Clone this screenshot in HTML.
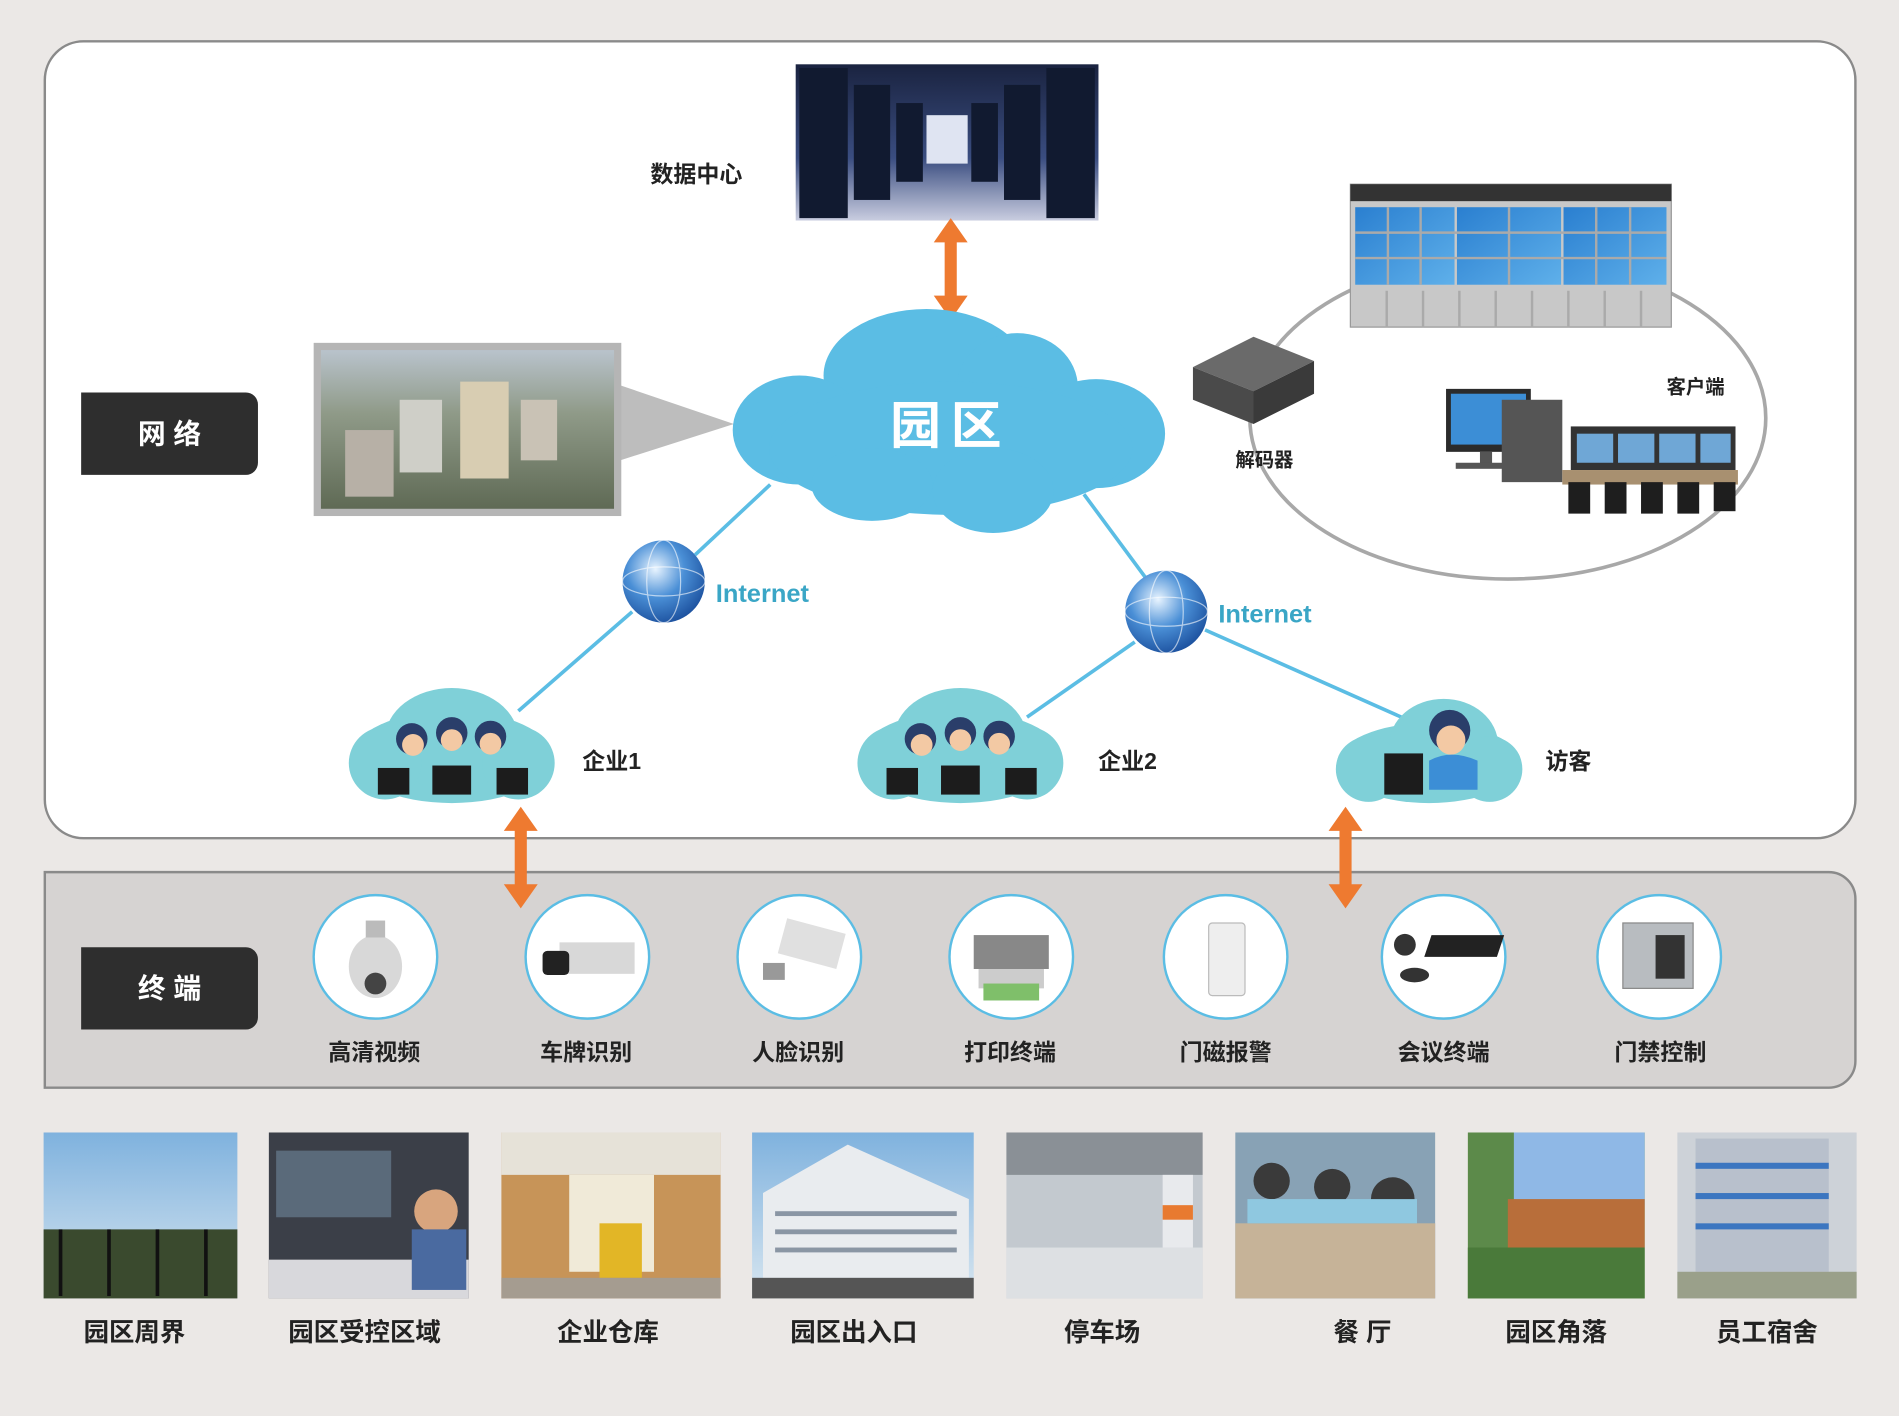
<!DOCTYPE html>
<html><head><meta charset="utf-8">
<style>
html,body{margin:0;padding:0;background:#ebe8e6;}
svg{display:block;}
text{font-family:"Liberation Sans","Noto Sans CJK SC",sans-serif;font-weight:bold;}
</style></head>
<body>
<svg width="1899" height="1416" viewBox="0 0 1568 1169" xmlns="http://www.w3.org/2000/svg">
<defs>
 <linearGradient id="dc" x1="0" y1="0" x2="0" y2="1"><stop offset="0" stop-color="#1a2340"/><stop offset="0.6" stop-color="#3a4d80"/><stop offset="1" stop-color="#c9cde0"/></linearGradient>
 <linearGradient id="city" x1="0" y1="0" x2="0" y2="1"><stop offset="0" stop-color="#b9c3cc"/><stop offset="0.4" stop-color="#8f9a88"/><stop offset="1" stop-color="#5f6a55"/></linearGradient>
 <radialGradient id="globe" cx="0.4" cy="0.35" r="0.7"><stop offset="0" stop-color="#e8f4ff"/><stop offset="0.5" stop-color="#4a8fd6"/><stop offset="1" stop-color="#1a4e9c"/></radialGradient>
 <linearGradient id="scr" x1="0" y1="0" x2="1" y2="1"><stop offset="0" stop-color="#2a7fd0"/><stop offset="1" stop-color="#5fb0ea"/></linearGradient>
 <linearGradient id="sky" x1="0" y1="0" x2="0" y2="1"><stop offset="0" stop-color="#7fb2de"/><stop offset="1" stop-color="#d8e6f0"/></linearGradient>
 <g id="arrow"><polygon points="0,-42 -14,-22 -5,-22 -5,22 -14,22 0,42 14,22 5,22 5,-22 14,-22" fill="#ee7a30"/></g>
</defs>
<rect width="1568" height="1169" fill="#ebe8e6"/>
<rect x="37" y="34" width="1495" height="658" rx="32" fill="#fff" stroke="#8a8a8a" stroke-width="2"/>
<path d="M37 720 H1510 a22 22 0 0 1 22 22 V876 a22 22 0 0 1 -22 22 H37 Z" fill="#d6d3d2" stroke="#8a8a8a" stroke-width="2"/>
<path d="M67 324 H203 a10 10 0 0 1 10 10 V382 a10 10 0 0 1 -10 10 H67 Z" fill="#2e2e2e"/>
<text x="140" y="366" font-size="23" fill="#fff" text-anchor="middle">网 络</text>
<path d="M67 782 H203 a10 10 0 0 1 10 10 V840 a10 10 0 0 1 -10 10 H67 Z" fill="#2e2e2e"/>
<text x="140" y="824" font-size="23" fill="#fff" text-anchor="middle">终 端</text>

<rect x="657" y="53" width="250" height="129" fill="url(#dc)"/>
<g fill="#111a30">
 <rect x="660" y="56" width="40" height="124"/><rect x="705" y="70" width="30" height="95"/><rect x="740" y="85" width="22" height="65"/>
 <rect x="864" y="56" width="40" height="124"/><rect x="829" y="70" width="30" height="95"/><rect x="802" y="85" width="22" height="65"/>
</g>
<rect x="765" y="95" width="34" height="40" fill="#dfe4f2"/>
<text x="575" y="150" font-size="19" fill="#222" text-anchor="middle">数据中心</text>
<use href="#arrow" x="785" y="222"/>

<polygon points="512,318 606,350 512,380" fill="#bdbdbd"/>
<rect x="259" y="283" width="254" height="143" fill="#b5b5b5"/>
<rect x="265" y="289" width="242" height="131" fill="url(#city)"/>
<rect x="380" y="315" width="40" height="80" fill="#d8cdb2"/><rect x="330" y="330" width="35" height="60" fill="#cfcfc8"/><rect x="285" y="355" width="40" height="55" fill="#b7b0a6"/><rect x="430" y="330" width="30" height="50" fill="#c9c2b5"/>

<g stroke="#5bbde4" stroke-width="3" fill="none">
 <line x1="636" y1="400" x2="574" y2="458"/>
 <line x1="522" y1="505" x2="428" y2="587"/>
 <line x1="895" y1="408" x2="946" y2="477"/>
 <line x1="937" y1="530" x2="848" y2="592"/>
 <line x1="995" y1="520" x2="1166" y2="596"/>
</g>
<g fill="#5bbde4">
 <ellipse cx="765" cy="310" rx="85" ry="55"/>
 <ellipse cx="840" cy="320" rx="50" ry="45"/>
 <ellipse cx="660" cy="355" rx="55" ry="45"/>
 <ellipse cx="905" cy="358" rx="57" ry="45"/>
 <ellipse cx="785" cy="370" rx="150" ry="55"/>
 <ellipse cx="720" cy="400" rx="50" ry="30"/>
 <ellipse cx="820" cy="405" rx="50" ry="35"/>
</g>
<text x="785" y="366" font-size="42" fill="#fff" text-anchor="middle" letter-spacing="8">园区</text>

<circle cx="548" cy="480" r="34" fill="url(#globe)"/>
<circle cx="963" cy="505" r="34" fill="url(#globe)"/>
<g stroke="#fff" stroke-width="1" fill="none" opacity="0.6"><ellipse cx="548" cy="480" rx="34" ry="12"/><ellipse cx="548" cy="480" rx="14" ry="34"/><ellipse cx="963" cy="505" rx="34" ry="12"/><ellipse cx="963" cy="505" rx="14" ry="34"/></g>
<text x="591" y="497" font-size="21" fill="#3aa6c6">Internet</text>
<text x="1006" y="514" font-size="21" fill="#3aa6c6">Internet</text>

<ellipse cx="1245" cy="345" rx="213" ry="133" fill="none" stroke="#a8a8a8" stroke-width="3"/>
<rect x="1115" y="152" width="265" height="118" fill="#c8c8c8" stroke="#999"/>
<rect x="1115" y="152" width="265" height="14" fill="#333"/>
<g fill="url(#scr)">
 <rect x="1119" y="171" width="82" height="64"/><rect x="1203" y="171" width="86" height="64"/><rect x="1291" y="171" width="85" height="64"/>
</g>
<g stroke="#aaa" stroke-width="2">
 <line x1="1146" y1="171" x2="1146" y2="235"/><line x1="1173" y1="171" x2="1173" y2="235"/><line x1="1246" y1="171" x2="1246" y2="235"/><line x1="1318" y1="171" x2="1318" y2="235"/><line x1="1346" y1="171" x2="1346" y2="235"/>
 <line x1="1119" y1="192" x2="1376" y2="192"/><line x1="1119" y1="213" x2="1376" y2="213"/>
 <line x1="1145" y1="240" x2="1145" y2="270"/><line x1="1175" y1="240" x2="1175" y2="270"/><line x1="1205" y1="240" x2="1205" y2="270"/><line x1="1235" y1="240" x2="1235" y2="270"/><line x1="1265" y1="240" x2="1265" y2="270"/><line x1="1295" y1="240" x2="1295" y2="270"/><line x1="1325" y1="240" x2="1325" y2="270"/><line x1="1355" y1="240" x2="1355" y2="270"/>
</g>
<polygon points="985,303 1035,278 1085,298 1035,323" fill="#6a6a6a"/>
<polygon points="985,303 1035,323 1035,350 985,330" fill="#4a4a4a"/>
<polygon points="1035,323 1085,298 1085,325 1035,350" fill="#3a3a3a"/>
<text x="1044" y="385" font-size="16" fill="#222" text-anchor="middle">解码器</text>
<rect x="1194" y="321" width="70" height="52" fill="#2b2b2b"/><rect x="1198" y="325" width="62" height="42" fill="#3c8ed6"/>
<rect x="1222" y="373" width="10" height="10" fill="#555"/><rect x="1202" y="382" width="48" height="5" fill="#555"/>
<rect x="1240" y="330" width="50" height="68" fill="#555"/>
<rect x="1297" y="352" width="136" height="36" fill="#333"/>
<g fill="#6fa7d6"><rect x="1302" y="358" width="30" height="24"/><rect x="1336" y="358" width="30" height="24"/><rect x="1370" y="358" width="30" height="24"/><rect x="1404" y="358" width="25" height="24"/></g>
<rect x="1290" y="388" width="145" height="12" fill="#a89070"/>
<g fill="#1e1e1e"><rect x="1295" y="398" width="18" height="26"/><rect x="1325" y="398" width="18" height="26"/><rect x="1355" y="398" width="18" height="26"/><rect x="1385" y="398" width="18" height="26"/><rect x="1415" y="398" width="18" height="24"/></g>
<text x="1400" y="325" font-size="16" fill="#222" text-anchor="middle">客户端</text>

<g fill="#7fd0d8">
 <ellipse cx="373" cy="625" rx="83" ry="38"/><ellipse cx="373" cy="610" rx="55" ry="42"/><ellipse cx="318" cy="630" rx="30" ry="30"/><ellipse cx="428" cy="630" rx="30" ry="30"/>
 <ellipse cx="793" cy="625" rx="83" ry="38"/><ellipse cx="793" cy="610" rx="55" ry="42"/><ellipse cx="738" cy="630" rx="30" ry="30"/><ellipse cx="848" cy="630" rx="30" ry="30"/>
 <ellipse cx="1180" cy="630" rx="76" ry="33"/><ellipse cx="1192" cy="615" rx="45" ry="38"/><ellipse cx="1130" cy="635" rx="27" ry="27"/><ellipse cx="1230" cy="635" rx="27" ry="27"/>
</g>
<g>
 <g fill="#2a3e6a"><circle cx="340" cy="610" r="13"/><circle cx="373" cy="605" r="13"/><circle cx="405" cy="608" r="13"/><circle cx="760" cy="610" r="13"/><circle cx="793" cy="605" r="13"/><circle cx="825" cy="608" r="13"/><circle cx="1197" cy="603" r="17"/></g>
 <g fill="#f3c9a4"><circle cx="341" cy="615" r="9"/><circle cx="373" cy="611" r="9"/><circle cx="405" cy="614" r="9"/><circle cx="761" cy="615" r="9"/><circle cx="793" cy="611" r="9"/><circle cx="825" cy="614" r="9"/><circle cx="1198" cy="611" r="12"/></g>
 <g fill="#1c1c1c"><rect x="312" y="634" width="26" height="22"/><rect x="357" y="632" width="32" height="24"/><rect x="410" y="634" width="26" height="22"/><rect x="732" y="634" width="26" height="22"/><rect x="777" y="632" width="32" height="24"/><rect x="830" y="634" width="26" height="22"/><rect x="1143" y="622" width="32" height="34"/></g>
 <path d="M1180 628 q18 -10 40 0 v24 h-40 z" fill="#3c8ed6"/>
</g>
<text x="505" y="635" font-size="19" fill="#222" text-anchor="middle">企业1</text>
<text x="931" y="635" font-size="19" fill="#222" text-anchor="middle">企业2</text>
<text x="1295" y="635" font-size="19" fill="#222" text-anchor="middle">访客</text>

<use href="#arrow" x="430" y="708"/>
<use href="#arrow" x="1111" y="708"/>

<g fill="#fff" stroke="#5bbde4" stroke-width="2">
 <circle cx="310" cy="790" r="51"/><circle cx="485" cy="790" r="51"/><circle cx="660" cy="790" r="51"/><circle cx="835" cy="790" r="51"/><circle cx="1012" cy="790" r="51"/><circle cx="1192" cy="790" r="51"/><circle cx="1370" cy="790" r="51"/>
</g>
<ellipse cx="310" cy="798" rx="22" ry="26" fill="#d8d8d8"/><rect x="302" y="760" width="16" height="14" fill="#bbb"/><circle cx="310" cy="812" r="9" fill="#444"/>
<rect x="462" y="778" width="62" height="26" fill="#d8d8d8"/><rect x="448" y="785" width="22" height="20" rx="4" fill="#222"/>
<rect x="645" y="764" width="50" height="30" fill="#e0e0e0" transform="rotate(15 670 780)"/><rect x="630" y="795" width="18" height="14" fill="#999"/>
<rect x="804" y="772" width="62" height="28" fill="#888"/><rect x="808" y="800" width="54" height="16" fill="#ccc"/><rect x="812" y="812" width="46" height="14" fill="#7fbf6a"/>
<rect x="998" y="762" width="30" height="60" rx="3" fill="#eee" stroke="#bbb"/>
<polygon points="1182,772 1242,772 1236,790 1176,790" fill="#222"/><circle cx="1160" cy="780" r="9" fill="#333"/><ellipse cx="1168" cy="805" rx="12" ry="6" fill="#333"/>
<rect x="1340" y="762" width="58" height="54" fill="#b8bcc0" stroke="#888"/><rect x="1367" y="772" width="24" height="36" fill="#333"/>

<g font-size="19" fill="#222" text-anchor="middle">
 <text x="309" y="875">高清视频</text><text x="484" y="875">车牌识别</text><text x="659" y="875">人脸识别</text><text x="834" y="875">打印终端</text><text x="1012" y="875">门磁报警</text><text x="1192" y="875">会议终端</text><text x="1371" y="875">门禁控制</text>
</g>

<rect x="36" y="935" width="160" height="137" fill="url(#sky)"/><rect x="36" y="1015" width="160" height="57" fill="#3a4a2e"/><g stroke="#111" stroke-width="3"><line x1="50" y1="1015" x2="50" y2="1070"/><line x1="90" y1="1015" x2="90" y2="1070"/><line x1="130" y1="1015" x2="130" y2="1070"/><line x1="170" y1="1015" x2="170" y2="1070"/></g>
<rect x="222" y="935" width="165" height="137" fill="#3b3f48"/><rect x="228" y="950" width="95" height="55" fill="#5a6a7a"/><rect x="222" y="1040" width="165" height="32" fill="#d8d8dc"/><circle cx="360" cy="1000" r="18" fill="#d8a57e"/><rect x="340" y="1015" width="45" height="50" fill="#4a6aa0"/>
<rect x="414" y="935" width="181" height="137" fill="#c79458"/><rect x="414" y="935" width="181" height="35" fill="#e6e2d8"/><rect x="470" y="970" width="70" height="80" fill="#f0ead8"/><rect x="495" y="1010" width="35" height="45" fill="#e2b626"/><rect x="414" y="1055" width="181" height="17" fill="#a59c90"/>
<rect x="621" y="935" width="183" height="137" fill="url(#sky)"/><polygon points="630,985 700,945 800,990 800,1055 630,1055" fill="#e9ecef"/><g fill="#8a96a4"><rect x="640" y="1000" width="150" height="4"/><rect x="640" y="1015" width="150" height="4"/><rect x="640" y="1030" width="150" height="4"/></g><rect x="621" y="1055" width="183" height="17" fill="#555"/>
<rect x="831" y="935" width="162" height="137" fill="#c3c9cf"/><rect x="831" y="935" width="162" height="35" fill="#8a9096"/><rect x="831" y="1030" width="162" height="42" fill="#dde0e3"/><rect x="960" y="970" width="25" height="60" fill="#e8eaed"/><rect x="960" y="995" width="25" height="12" fill="#e87a30"/>
<rect x="1020" y="935" width="165" height="137" fill="#88a2b5"/><rect x="1020" y="1010" width="165" height="62" fill="#c6b398"/><circle cx="1050" cy="975" r="15" fill="#3a3a3a"/><circle cx="1100" cy="980" r="15" fill="#3a3a3a"/><circle cx="1150" cy="990" r="18" fill="#3a3a3a"/><rect x="1030" y="990" width="140" height="20" fill="#8fc8e0"/>
<rect x="1212" y="935" width="146" height="137" fill="#5c8a4a"/><rect x="1250" y="935" width="108" height="60" fill="#8fb8e6"/><rect x="1245" y="990" width="113" height="40" fill="#b86e3a"/><rect x="1212" y="1030" width="146" height="42" fill="#4a7a3a"/>
<rect x="1385" y="935" width="148" height="137" fill="#cdd2d8"/><rect x="1400" y="940" width="110" height="110" fill="#b8c0cc"/><g fill="#3c76c0"><rect x="1400" y="960" width="110" height="5"/><rect x="1400" y="985" width="110" height="5"/><rect x="1400" y="1010" width="110" height="5"/></g><rect x="1385" y="1050" width="148" height="22" fill="#9aa08a"/>

<g font-size="21" fill="#222" text-anchor="middle">
 <text x="111" y="1107">园区周界</text><text x="301" y="1107">园区受控区域</text><text x="502" y="1107">企业仓库</text><text x="705" y="1107">园区出入口</text><text x="910" y="1107">停车场</text><text x="1125" y="1107">餐  厅</text><text x="1285" y="1107">园区角落</text><text x="1459" y="1107">员工宿舍</text>
</g>
</svg>
</body></html>
